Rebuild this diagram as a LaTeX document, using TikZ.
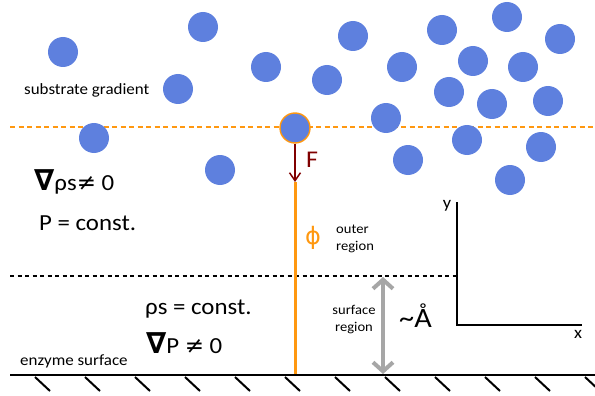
\documentclass[tikz,border=0pt]{standalone}
\usepackage{fontspec}
\setmainfont[FakeStretch=1.08]{Carlito}
\newfontfamily\symfont{DejaVu Sans}
\usetikzlibrary{arrows.meta,positioning}

\definecolor{molblue}{RGB}{94,128,222}
\definecolor{probeorange}{RGB}{255,152,16}
\definecolor{forcered}{RGB}{128,0,0}
\definecolor{arrowgray}{RGB}{166,166,166}

\newcommand{\nablasym}{{\symfont\bfseries\fontsize{29}{26}\selectfont ∇}}

\begin{document}
\begin{tikzpicture}[
    x=1pt, y=-1pt,
    mol/.style={circle, fill=molblue, minimum size=30pt, inner sep=0pt},
    txt/.style={anchor=base west, inner sep=0pt},
    smalltext/.style={font=\fontsize{15.7}{18}\selectfont},
    bigtext/.style={font=\fontsize{23}{26}\selectfont},
    notetext/.style={font=\fontsize{13.5}{17}\selectfont, inner sep=0pt},
    hatch/.style={line width=2pt},
    >={Straight Barb[length=8pt,width=11pt]}
]
  \useasboundingbox (0,0) rectangle (595,396);

  % Define the boundaries
  \coordinate (oL) at (10,127);
  \coordinate (oR) at (595,127);
  \coordinate (sL) at (10,276);
  \coordinate (sR) at (457,276);
  \coordinate (gL) at (10,375);
  \coordinate (gR) at (595,375);

  \draw[probeorange, line width=1.2pt, dash pattern=on 5pt off 3.5pt] (oL) -- (oR);
  \draw[line width=2.1pt, dash pattern=on 4pt off 3.5pt] (sL) -- (sR);

  % substrate molecules
  \foreach \x/\y [count=\i] in {63/52, 203/27, 178/89, 266/67, 327/80, 353/36,
      402/67, 442/30, 507/17, 560/39, 473/61, 523/67, 449/92, 492/104,
      548/101, 386/118, 94/138, 467/140, 220/170, 408/160, 541/147, 510/180}
    \node[mol] (m\i) at (\x,\y) {};

  \node[mol, draw=probeorange, line width=1.4pt] (probe) at (295,128) {};

  % force on the substrate
  \coordinate (ftip) at (295,182);
  \draw[probeorange, line width=3pt] (ftip) -- (ftip |- gL);
  \draw[forcered, line width=1.5pt, ->] (probe.south) -- (ftip);
  \node[txt, font=\fontsize{24}{26}\selectfont, text=forcered] (flabel) at (306,167) {F};

  % enzyme surface
  \draw[line width=2.8pt] (gL) -- (gR);
  \foreach \x in {35,85,...,585}
    \draw[hatch] (\x,377) -- ++(15,14);

  % surface region arrow
  \coordinate (dTop) at (383,277);
  \coordinate (dBot) at (383,374);
  \draw[arrowgray, line width=4pt, {Straight Barb[length=9pt,width=20pt]}-{Straight Barb[length=9pt,width=20pt]}] (dTop) -- (dBot);

  % axes
  \coordinate (ytop) at (457,202);
  \coordinate (origin) at (457,325);
  \coordinate (xend) at (582,325);
  \draw[line width=2pt] (ytop) -- (origin) -- (xend);
  \node[anchor=base, inner sep=0pt, font=\fontsize{17}{18}\selectfont] (ylab) at (447,208) {y};
  \node[anchor=base, inner sep=0pt, font=\fontsize{17}{18}\selectfont] (xlab) at (578,338) {x};

  % labels
  \node[txt, smalltext] (grad) at (24,95) {substrate gradient};
  \node[txt, bigtext] (gradrho) at (34,190) {\nablasym ρs{\symfont ≠} 0};
  \node[txt, bigtext] (pconst) at (39,230) {P = const.};
  \node[txt, bigtext] (rhoconst) at (145,314) {ρs = const.};
  \node[txt, bigtext] (gradp) at (146,353) {\nablasym P {\symfont ≠} 0};
  \node[txt, smalltext] (enz) at (20,365) {enzyme surface};

  \node[text=probeorange, inner sep=0pt, font=\symfont\fontsize{24}{26}\selectfont] (phi) at (313,238) {ϕ};
  \node[notetext, align=left, anchor=west] (outer) at (336,239) {outer\\region};
  \node[notetext, align=center] (surf) at (354,320) {surface\\region};
  \node[txt, font=\fontsize{28}{30}\selectfont] (ang) at (399,327) {\textasciitilde Å};

\end{tikzpicture}
\end{document}
